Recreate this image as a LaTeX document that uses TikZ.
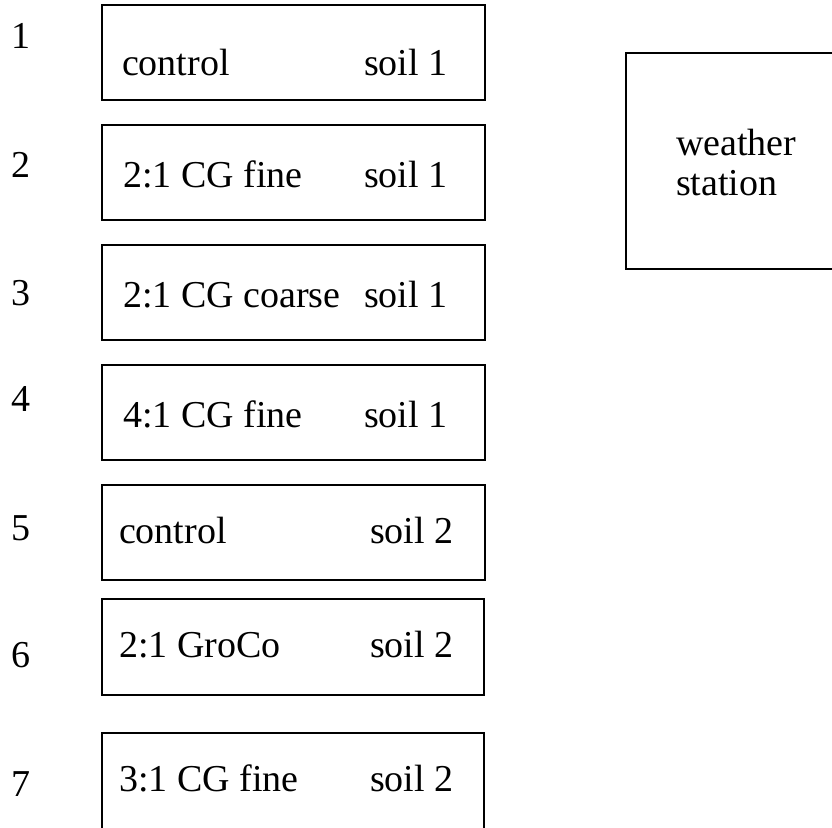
\documentclass[tikz,border=0pt]{standalone}
\usepackage{fontspec}
\setmainfont{Liberation Serif}
\begin{document}
\begin{tikzpicture}[x=1pt,y=-1pt,
  plotbox/.style={draw, line width=2pt, inner sep=0pt, outer sep=0pt, anchor=north west},
  txt/.style={anchor=base west, inner sep=0pt, outer sep=0pt, font=\fontsize{38}{40}\selectfont}]
\useasboundingbox (0,0) rectangle (832,827);
\clip (0,0) rectangle (832,827);

% field plots
\node[plotbox, minimum width=383pt, minimum height=95pt] (p1) at (102,5) {};
\node[plotbox, minimum width=383pt, minimum height=95pt] (p2) at (102,125) {};
\node[plotbox, minimum width=383pt, minimum height=95pt] (p3) at (102,245) {};
\node[plotbox, minimum width=383pt, minimum height=95pt] (p4) at (102,365) {};
\node[plotbox, minimum width=383pt, minimum height=95pt] (p5) at (102,485) {};
\node[plotbox, minimum width=382pt, minimum height=96pt] (p6) at (102,599) {};
\node[plotbox, minimum width=382pt, minimum height=110pt] (p7) at (102,733) {};

% weather station
\node[plotbox, minimum width=230pt, minimum height=216pt] (ws) at (626,53) {};

% plot numbers
\node[txt] (n1) at (11,48) {1};
\node[txt] (n2) at (11,177) {2};
\node[txt] (n3) at (11,305) {3};
\node[txt] (n4) at (11,411) {4};
\node[txt] (n5) at (11,540) {5};
\node[txt] (n6) at (11,667) {6};
\node[txt] (n7) at (11,796) {7};

% treatments
\node[txt] (t1) at (122,75) {control};
\node[txt] (t2) at (123,187) {2:1 CG fine};
\node[txt] (t3) at (123,307) {2:1 CG coarse};
\node[txt] (t4) at (123,427) {4:1 CG fine};
\node[txt] (t5) at (119,543) {control};
\node[txt] (t6) at (119,657) {2:1 GroCo};
\node[txt] (t7) at (119,791) {3:1 CG fine};

% soils
\node[txt] (s1) at (364,75) {soil 1};
\node[txt] (s2) at (364,187) {soil 1};
\node[txt] (s3) at (364,307) {soil 1};
\node[txt] (s4) at (364,427) {soil 1};
\node[txt] (s5) at (370,543) {soil 2};
\node[txt] (s6) at (370,657) {soil 2};
\node[txt] (s7) at (370,791) {soil 2};

% weather station label
\node[txt] (w1) at (676,155) {weather};
\node[txt] (w2) at (676,195) {station};
\end{tikzpicture}
\end{document}
